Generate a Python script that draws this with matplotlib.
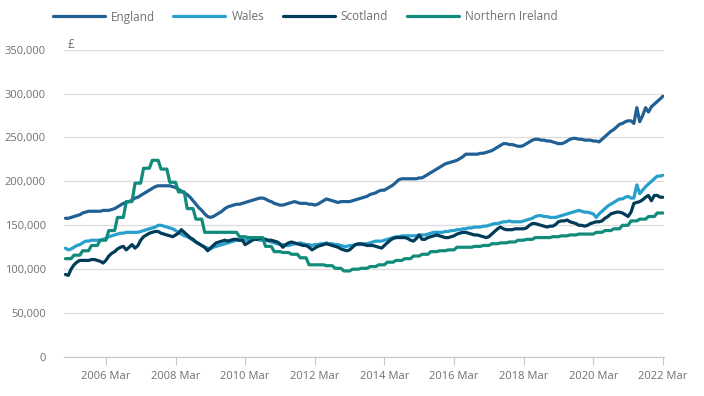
import numpy as np
import pandas as pd
import matplotlib
matplotlib.use('Agg')
import matplotlib.pyplot as plt

plt.rcParams['font.family'] = ['Open Sans', 'DejaVu Sans']

# monthly average prices (thousands of pounds), Jan 2005 - Mar 2022
months = pd.date_range('2005-01-01', '2022-03-01', freq='MS')

england = [
    158, 158, 159, 160, 161, 162, 164, 165, 166, 166, 166, 166,
    166, 167, 167, 167, 168, 169, 171, 173, 175, 176, 177, 179,
    181, 182, 184, 186, 188, 190, 192, 194, 195, 195, 195, 195,
    195, 194, 193, 191, 189, 187, 185, 182, 178, 174, 170, 167,
    163, 160, 159, 160, 162, 164, 166, 169, 171, 172, 173, 174,
    174, 175, 176, 177, 178, 179, 180, 181, 181, 180, 178, 177,
    175, 174, 173, 173, 174, 175, 176, 177, 176, 175, 175, 175,
    174, 174, 173, 174, 176, 178, 180, 179, 178, 177, 176, 177,
    177, 177, 177, 178, 179, 180, 181, 182, 183, 185, 186, 187,
    189, 190, 190, 192, 194, 196, 199, 202, 203, 203, 203, 203,
    203, 203, 204, 204, 206, 208, 210, 212, 214, 216, 218, 220,
    221, 222, 223, 224, 226, 228, 231, 231, 231, 231, 231, 232,
    232, 233, 234, 235, 237, 239, 241, 243, 243, 242, 242, 241,
    240, 240, 241, 243, 245, 247, 248, 248, 247, 247, 246, 246,
    245, 244, 243, 243, 244, 246, 248, 249, 249, 248, 248, 247,
    247, 247, 246, 246, 245, 248, 251, 254, 257, 259, 262, 265,
    266, 268, 269, 269, 266, 284, 268, 275, 284, 279, 285, 288,
    291, 294, 297,
]

wales = [
    124, 122, 123, 125, 127, 128, 130, 132, 132, 133, 133, 133,
    133, 134, 135, 137, 138, 139, 140, 141, 141, 142, 142, 142,
    142, 142, 143, 144, 145, 146, 147, 148, 150, 150, 149, 148,
    147, 146, 144, 142, 140, 138, 137, 135, 133, 131, 129, 127,
    125, 124, 123, 125, 126, 127, 128, 129, 130, 131, 132, 133,
    133, 134, 133, 134, 134, 134, 134, 133, 133, 133, 132, 131,
    130, 129, 128, 128, 127, 127, 128, 129, 129, 130, 129, 128,
    128, 127, 128, 128, 129, 129, 130, 129, 129, 128, 128, 127,
    126, 126, 127, 127, 128, 128, 128, 129, 129, 130, 131, 132,
    132, 132, 133, 134, 135, 136, 137, 137, 138, 138, 138, 138,
    138, 138, 139, 139, 139, 140, 141, 142, 142, 142, 142, 143,
    143, 144, 144, 145, 145, 146, 146, 147, 147, 148, 148, 148,
    149, 149, 150, 151, 152, 152, 153, 154, 154, 155, 154, 154,
    154, 154, 155, 156, 157, 158, 160, 161, 161, 160, 160, 159,
    159, 159, 160, 161, 162, 163, 164, 165, 166, 167, 166, 165,
    165, 164, 163, 159, 163, 166, 169, 172, 174, 176, 178, 180,
    180, 182, 183, 181, 181, 196, 186, 190, 194, 197, 200, 203,
    206, 206, 207,
]

scotland = [
    94, 93, 100, 105, 108, 110, 110, 110, 110, 111, 111, 110,
    109, 107, 110, 115, 118, 120, 123, 125, 126, 122, 125, 128,
    124, 127, 133, 137, 139, 141, 142, 143, 143, 141, 140, 139,
    138, 137, 139, 141, 145, 142, 139, 136, 134, 131, 129, 127,
    125, 121, 124, 127, 130, 131, 132, 133, 132, 133, 134, 134,
    133, 133, 128, 130, 132, 134, 134, 135, 135, 134, 133, 133,
    132, 131, 129, 125, 128, 130, 131, 130, 129, 128, 127, 127,
    125, 122, 124, 126, 127, 128, 129, 128, 127, 126, 125, 123,
    122, 121, 122, 125, 128, 129, 129, 128, 127, 127, 127, 126,
    125, 124, 127, 130, 133, 135, 136, 136, 136, 136, 135, 133,
    132, 135, 139, 134, 134, 136, 137, 138, 139, 138, 137, 136,
    136, 137, 138, 140, 141, 142, 142, 141, 140, 139, 139, 138,
    137, 136, 137, 140, 143, 146, 148, 146, 145, 145, 145, 146,
    146, 146, 146, 147, 150, 152, 152, 151, 150, 149, 148, 149,
    149, 151, 154, 155, 155, 156, 154, 153, 152, 150, 150, 149,
    150, 152, 153, 154, 154, 155, 158, 160, 163, 164, 165, 165,
    164, 162, 160, 165, 175, 176, 177, 179, 182, 184, 178, 184,
    184, 182, 182,
]

# Northern Ireland is published quarterly (Q1 2005 - Q1 2022)
northern_ireland_q = [
    112, 116, 121, 127,
    133, 144, 159, 177,
    198, 215, 224, 214,
    199, 188, 169, 157,
    142, 142, 142, 142,
    137, 136, 136, 126,
    120, 119, 117, 113,
    105, 105, 104, 101,
    98, 100, 101, 103,
    105, 108, 110, 112,
    115, 117, 120, 121,
    122, 125, 125, 126,
    127, 129, 130, 131,
    133, 134, 136, 136,
    137, 138, 139, 140,
    140, 142, 144, 146,
    150, 155, 157, 160,
    164,
]
northern_ireland = np.repeat(northern_ireland_q, 3)

series_names = ['England', 'Wales', 'Scotland', 'Northern Ireland']
series_colors = ['#206095', '#27a0cc', '#003c57', '#118c7b']
series_values = [england, wales, scotland, northern_ireland]

y_ticks = [0, 50000, 100000, 150000, 200000, 250000, 300000, 350000]
x_tick_years = [2006, 2008, 2010, 2012, 2014, 2016, 2018, 2020, 2022]

fig = plt.figure(figsize=(7.04, 3.96), dpi=100)
ax = fig.add_axes([64 / 704, 1 - 357 / 396, 600 / 704, (357 - 49.7) / 396])

for name, color, vals in zip(series_names, series_colors, series_values):
    ax.plot(months, np.array(vals) * 1000, color=color, lw=2.3, label=name,
            solid_joinstyle='round', solid_capstyle='round')

ax.set_ylim(0, 350000)
ax.set_xlim(pd.Timestamp('2004-12-17'), pd.Timestamp('2022-03-13'))
ax.set_yticks(y_ticks)
ax.set_yticklabels([f'{v:,}' for v in y_ticks])
ax.set_xticks([pd.Timestamp(f'{y}-03-01') for y in x_tick_years])
ax.set_xticklabels([f'{y} Mar' for y in x_tick_years])

ax.grid(axis='y', color='#dcdcdc', lw=0.9)
ax.set_axisbelow(True)
for s in ['top', 'right', 'left']:
    ax.spines[s].set_visible(False)
ax.spines['bottom'].set_color('#c8c8c8')
ax.tick_params(axis='y', length=0, pad=13, labelsize=8, labelcolor='#707070')
ax.tick_params(axis='x', length=6, color='#c8c8c8', pad=4, labelsize=8, labelcolor='#707070')

fig.text(68 / 704, 1 - 44 / 396, '£', fontsize=8.5, color='#707070', va='center')

fig.legend(loc='center left', bbox_to_anchor=(42 / 704, 1 - 17 / 396), ncol=4,
           frameon=False, fontsize=8.5, handlelength=4.4, handletextpad=0.5,
           columnspacing=1.6, labelcolor='#707070')

plt.savefig('out.png', dpi=100)
